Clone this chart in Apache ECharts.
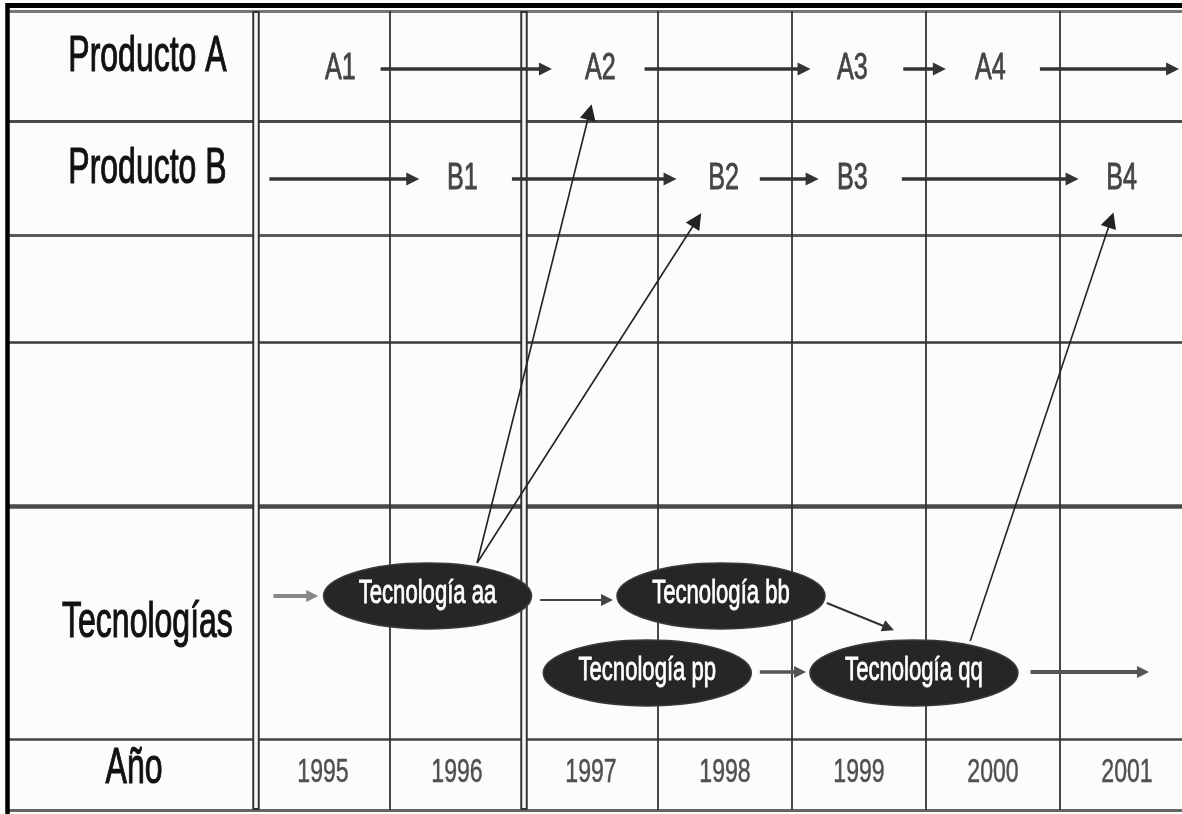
<!DOCTYPE html>
<html><head><meta charset="utf-8">
<script src="https://cdn.jsdelivr.net/npm/echarts@6/dist/echarts.min.js"></script>
<style>html,body{margin:0;padding:0;background:#fff}#c{width:1182px;height:814px}</style>
</head><body><div id="c"></div>
<script>
// ---------------- DATA ----------------
const years = [1995, 1996, 1997, 1998, 1999, 2000, 2001];
const yearLabels = ['1995', '1996', '1997', '1998', '1999', '2000', '2001'];
const rowLabels = ['Producto A', 'Producto B', 'Tecnologías', 'Año'];
// product milestones: [label, year position]
const productA = [['A1', 1995.13], ['A2', 1997.07], ['A3', 1998.95], ['A4', 1999.98]];
const productB = [['B1', 1996.04], ['B2', 1997.99], ['B3', 1998.95], ['B4', 2000.96]];
// product arrows: [from year, to year]
const productAArrows = [[1995.43, 1996.66], [1997.40, 1998.59], [1999.33, 1999.60], [2000.35, 2001.34]];
const productBArrows = [[1994.60, 1995.67], [1996.41, 1997.59], [1998.26, 1998.65], [1999.32, 2000.59]];
// technologies
const techNames = ['Tecnología aa', 'Tecnología bb', 'Tecnología pp', 'Tecnología qq'];
const techYears = [1995.78, 1997.97, 1997.42, 1999.41];
const techLanes = ['upper', 'upper', 'lower', 'lower'];
// technology arrows: [[year, rowPos], [year, rowPos]]
const techArrows = [
  [[1994.63, 596], [1994.92, 596]],
  [[1996.62, 600], [1997.12, 600]],
  [[1998.76, 603], [1999.22, 628]],
  [[1998.26, 672], [1998.56, 672]],
  [[2000.28, 672], [2001.12, 672]]
];
// technology -> product links
const linkArrows = [
  [[1996.15, 563], [1996.99, 112]],
  [[1996.15, 563], [1997.79, 220]],
  [[1999.83, 641], [2000.88, 220]]
];

// ---------------- LAYOUT ----------------
const W = 1182, H = 814;
const COL_PX = 134, FIRST_BOUNDARY_PX = 256, LEFT_FRAME_PX = 7;
const xMin = (years[0] - 0.5) - FIRST_BOUNDARY_PX / COL_PX;
const xMax = (years[0] - 0.5) + (W - FIRST_BOUNDARY_PX) / COL_PX;
const xFrame = xMin + LEFT_FRAME_PX / COL_PX;
const LANE_Y = { productA: 69, productB: 179, upper: 596, lower: 673, year: 773 };
const ROW_LABEL_Y = [57, 169, 623, 769];
const ROW_LABEL_X = [1993.69, 1993.69, 1993.69, 1993.59];
const ROW_LINES = [11, 121, 235, 342, 506, 739, 810];
const ROW_LINE_STYLE = [
  { w: 3, c: '#777' }, { w: 3, c: '#4a4a4a' }, { w: 3, c: '#5a5a5a' }, { w: 2.5, c: '#3a3a3a' },
  { w: 4.5, c: '#4a4a4a' }, { w: 2.5, c: '#444' }, { w: 3, c: '#666' }
];
const DOUBLE_COLS = [1994.5, 1996.5];
const GRID_TOP = 11, GRID_BOTTOM = 810;
const ELLIPSE_W = 208, ELLIPSE_H = 66;
const FONT = "'Liberation Sans',Arial,'DejaVu Sans',sans-serif";

const boundaries = years.slice(0, -1).map(y => y + 0.5);
boundaries.unshift(years[0] - 0.5);

const gridLines = [];
ROW_LINES.forEach((y, i) => gridLines.push({
  coords: [[xFrame, y], [xMax, y]],
  lineStyle: { width: ROW_LINE_STYLE[i].w, color: ROW_LINE_STYLE[i].c, opacity: 1 }
}));
boundaries.forEach(x => {
  const dbl = DOUBLE_COLS.includes(x);
  gridLines.push({
    coords: [[x, GRID_TOP], [x, GRID_BOTTOM]],
    lineStyle: { width: dbl ? 7.5 : 1.8, color: '#333', opacity: 1 }
  });
  if (dbl) gridLines.push({
    coords: [[x, GRID_TOP + 2], [x, GRID_BOTTOM - 2]],
    lineStyle: { width: 3.5, color: '#f8f8f8', opacity: 1 }
  });
});
// frame: top and left black border
gridLines.push({ coords: [[xFrame, 5], [xMax, 5]], lineStyle: { width: 5, color: '#000', opacity: 1 } });
gridLines.push({ coords: [[xFrame, 3], [xFrame, H]], lineStyle: { width: 4.5, color: '#000', opacity: 1 } });

const prodArrowData = [];
productAArrows.forEach(a => prodArrowData.push({ coords: [[a[0], LANE_Y.productA], [a[1], LANE_Y.productA]] }));
productBArrows.forEach(a => prodArrowData.push({ coords: [[a[0], LANE_Y.productB], [a[1], LANE_Y.productB]] }));

const techArrowStyles = [
  { width: 4, color: '#888', opacity: 1 }, { width: 2, color: '#444', opacity: 1 }, { width: 2, color: '#333', opacity: 1 },
  { width: 3.5, color: '#555', opacity: 1 }, { width: 4, color: '#555', opacity: 1 }
];
const techArrowData = techArrows.map((a, i) => ({ coords: a, lineStyle: techArrowStyles[i] }));
const linkData = linkArrows.map(a => ({ coords: a }));

// text drawn through the cartesian axes, condensed horizontally like the original lettering
function textSeries(items, fontSize, scaleX, color, weight, z) {
  return {
    type: 'custom', coordinateSystem: 'cartesian2d', z: z || 6, silent: true,
    data: items.map(it => [it[1], it[2]]),
    renderItem: function (params, api) {
      const c = api.coord([api.value(0), api.value(1)]);
      return {
        type: 'text', x: c[0], y: c[1], scaleX: scaleX,
        style: { text: items[params.dataIndex][0], x: 0, y: 0, align: 'center',
          verticalAlign: 'middle', fill: color, stroke: color, lineWidth: weight,
          font: fontSize + 'px ' + FONT }
      };
    }
  };
}

const rowLabelItems = rowLabels.map((t, i) => [t, ROW_LABEL_X[i], ROW_LABEL_Y[i]]);
const productItems = productA.map(p => [p[0], p[1], LANE_Y.productA])
  .concat(productB.map(p => [p[0], p[1], LANE_Y.productB]));
const yearItems = years.map((y, i) => [yearLabels[i], y, LANE_Y.year]);
const techItems = techNames.map((n, i) => [n, techYears[i], LANE_Y[techLanes[i]] - 2]);

const option = {
  animation: false,
  backgroundColor: '#fcfcfc',
  grid: { left: 0, right: 0, top: 0, bottom: 0 },
  xAxis: { type: 'value', min: xMin, max: xMax, show: false },
  yAxis: { type: 'value', min: 0, max: H, inverse: true, show: false },
  series: [
    { type: 'lines', coordinateSystem: 'cartesian2d', z: 1, silent: true, symbol: 'none',
      lineStyle: { opacity: 1 }, data: gridLines },
    { type: 'lines', coordinateSystem: 'cartesian2d', z: 3, silent: true,
      symbol: ['none', 'triangle'], symbolSize: [14, 13],
      lineStyle: { width: 3.5, color: '#333', opacity: 1 }, data: prodArrowData },
    { type: 'lines', coordinateSystem: 'cartesian2d', z: 3, silent: true,
      symbol: ['none', 'triangle'], symbolSize: [12, 12],
      lineStyle: { opacity: 1 }, data: techArrowData },
    { type: 'lines', coordinateSystem: 'cartesian2d', z: 3, silent: true,
      symbol: ['none', 'triangle'], symbolSize: [11, 16],
      lineStyle: { width: 1.6, color: '#222', opacity: 1 }, data: linkData },
    { type: 'custom', coordinateSystem: 'cartesian2d', z: 5, silent: true,
      data: techNames.map((n, i) => [techYears[i], LANE_Y[techLanes[i]]]),
      renderItem: function (params, api) {
        const c = api.coord([api.value(0), api.value(1)]);
        return { type: 'ellipse', shape: { cx: c[0], cy: c[1], rx: ELLIPSE_W / 2, ry: ELLIPSE_H / 2 },
          style: { fill: '#262626', stroke: '#3a3a3a', lineWidth: 1.5 } };
      } },
    textSeries(techItems, 33, 0.67, '#ffffff', 0.8, 7),
    textSeries(rowLabelItems, 50, 0.64, '#111111', 1.1),
    textSeries(productItems, 37, 0.68, '#444444', 0.8),
    textSeries(yearItems, 34, 0.68, '#505050', 0.5)
  ]
};
const chart = echarts.init(document.getElementById('c'), null, { renderer: 'canvas' });
chart.setOption(option);
</script>
</body></html>
